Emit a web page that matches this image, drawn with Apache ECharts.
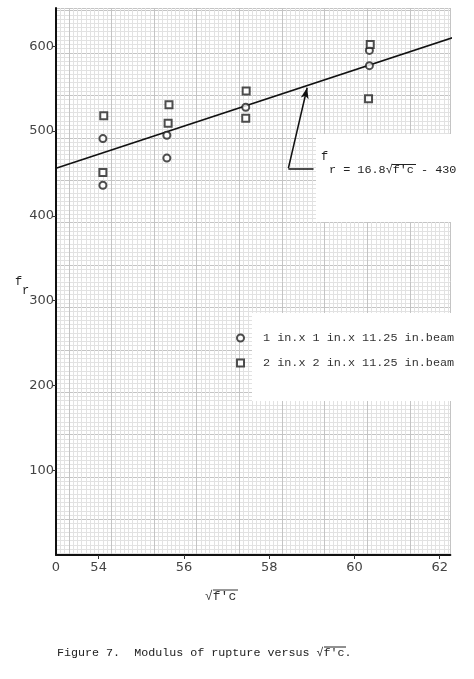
<!DOCTYPE html>
<html><head><meta charset="utf-8">
<script src="https://cdn.jsdelivr.net/npm/echarts@6/dist/echarts.min.js"></script>
<style>html,body{margin:0;padding:0;background:#fff}#c{width:474px;height:679px}</style>
</head><body><div id="c"></div>
<script>
// ---- data ----
const circleName = '1 in.x 1 in.x 11.25 in.beam';
const squareName = '2 in.x 2 in.x 11.25 in.beam';
const circlePoints = [[54.1,491],[54.1,436],[55.6,495],[55.6,468],[57.45,528],[60.35,595],[60.35,577]];
const squarePoints = [[54.12,518],[54.1,451],[55.65,531],[55.63,509],[57.46,547],[57.45,515],[60.37,602],[60.33,538]];
const fitLine = [[53,456],[62.36,611]];
const arrowPath = [[59.04,456],[58.45,456],[58.89,551]];
const xTickLabels = [53,54,56,58,60,62];   // 53 is the broken-axis origin, labelled "0"
const xTickMarks = [54,56,58,60,62];
const yTickLabels = [100,200,300,400,500,600];
const equationText = "r = 16.8\u221Af'c - 430";
const captionText = "Figure 7.  Modulus of rupture versus \u221Af'c.";

const MONO = '"Liberation Mono","DejaVu Sans Mono",monospace';
const SANS = '"DejaVu Sans","Noto Sans",sans-serif';
const chart = echarts.init(document.getElementById('c'), null, {renderer:'canvas'});

const paperMajor = {show:true, lineStyle:{color:'#c4c4c4', width:1}};
const paperMinor = {show:true, lineStyle:{color:'#e2e2e2', width:1}};
const annoLine = {color:'#111', width:1.5, type:'solid'};

chart.setOption({
  backgroundColor:'#fff',
  animation:false,
  grid:{left:56, right:23.6, top:8, bottom:124, containLabel:false},
  xAxis:[
    {type:'value', min:53, max:62.25, z:3,
     axisLine:{show:true, onZero:false, lineStyle:{color:'#111', width:2}},
     axisTick:{show:true, customValues:xTickMarks, length:4, lineStyle:{color:'#333'}},
     axisLabel:{customValues:xTickLabels, formatter:v=> v===53?'0':String(v), margin:6,
       fontFamily:SANS, fontSize:13, color:'#444'},
     splitLine:{show:false}},
    // graph-paper rulings (offset from the data ticks, as on the sheet)
    {type:'value', min:52.7, max:61.95, splitNumber:9, position:'top', z:0,
     axisLine:{show:false}, axisTick:{show:false}, axisLabel:{show:false},
     splitLine:paperMajor, minorTick:{show:false, splitNumber:10}, minorSplitLine:paperMinor}
  ],
  yAxis:[
    {type:'value', min:0, max:645, z:3,
     axisLine:{show:true, onZero:false, lineStyle:{color:'#111', width:2}},
     axisTick:{show:true, customValues:yTickLabels, length:4, lineStyle:{color:'#333'}},
     axisLabel:{customValues:yTickLabels, margin:2, fontFamily:SANS, fontSize:13, color:'#444'},
     splitLine:{show:false}},
    {type:'value', min:8, max:653, splitNumber:13, position:'right', z:0,
     axisLine:{show:false}, axisTick:{show:false}, axisLabel:{show:false},
     splitLine:paperMajor, minorTick:{show:false, splitNumber:10}, minorSplitLine:paperMinor}
  ],
  legend:{orient:'vertical', left:231, top:327, itemWidth:7, itemHeight:7, itemGap:13,
    selectedMode:false,
    data:[{name:circleName, icon:'emptyCircle'},{name:squareName, icon:'emptyRect'}],
    textStyle:{fontFamily:MONO, fontSize:11.8, color:'#333', padding:[0,0,0,14]}},
  series:[
    {type:'line', name:'fit', data:fitLine, symbol:'none', clip:false, silent:true, z:3,
     lineStyle:{color:'#111', width:1.6},
     markLine:{silent:true, symbol:['none','arrow'], symbolSize:[6,11], label:{show:false},
       lineStyle:annoLine, emphasis:{disabled:true},
       data:[[{coord:arrowPath[1]},{coord:arrowPath[2]}]]}},
    {type:'scatter', name:circleName, data:circlePoints, symbol:'emptyCircle', symbolSize:7, z:4,
     itemStyle:{color:'#222', borderWidth:1.2},
     markLine:{silent:true, symbol:['none','none'], label:{show:false},
       lineStyle:annoLine, emphasis:{disabled:true},
       data:[[{coord:arrowPath[0]},{coord:arrowPath[1]}]]}},
    {type:'scatter', name:squareName, data:squarePoints, symbol:'emptyRect', symbolSize:7, z:4,
     itemStyle:{color:'#222', borderWidth:1.2}}
  ],
  graphic:[
    {type:'rect', z:1, shape:{x:316, y:134, width:158, height:88}, style:{fill:'#fff'}},
    {type:'rect', z:1, shape:{x:252, y:313, width:222, height:88}, style:{fill:'#fff'}},
    {type:'text', z:10, x:321, y:151, style:{text:'f', font:'12px '+MONO, fill:'#222'}},
    {type:'text', z:10, x:329, y:164, style:{text:equationText, font:'11.8px '+MONO, fill:'#222'}},
    {type:'line', z:10, shape:{x1:392, y1:164.5, x2:416, y2:164.5}, style:{stroke:'#222', lineWidth:1}},
    {type:'text', z:10, x:15, y:276, style:{text:'f', font:'12px '+MONO, fill:'#222'}},
    {type:'text', z:10, x:22, y:285, style:{text:'r', font:'12px '+MONO, fill:'#222'}},
    {type:'text', z:10, x:205, y:590, style:{text:"\u221Af'c", font:'13px '+MONO, fill:'#333'}},
    {type:'line', z:10, shape:{x1:213, y1:590, x2:238, y2:590}, style:{stroke:'#333', lineWidth:1}},
    {type:'text', z:10, x:57, y:647, style:{text:captionText, font:'11.7px '+MONO, fill:'#222'}},
    {type:'line', z:10, shape:{x1:324, y1:647, x2:346, y2:647}, style:{stroke:'#222', lineWidth:1}}
  ]
});
</script></body></html>
